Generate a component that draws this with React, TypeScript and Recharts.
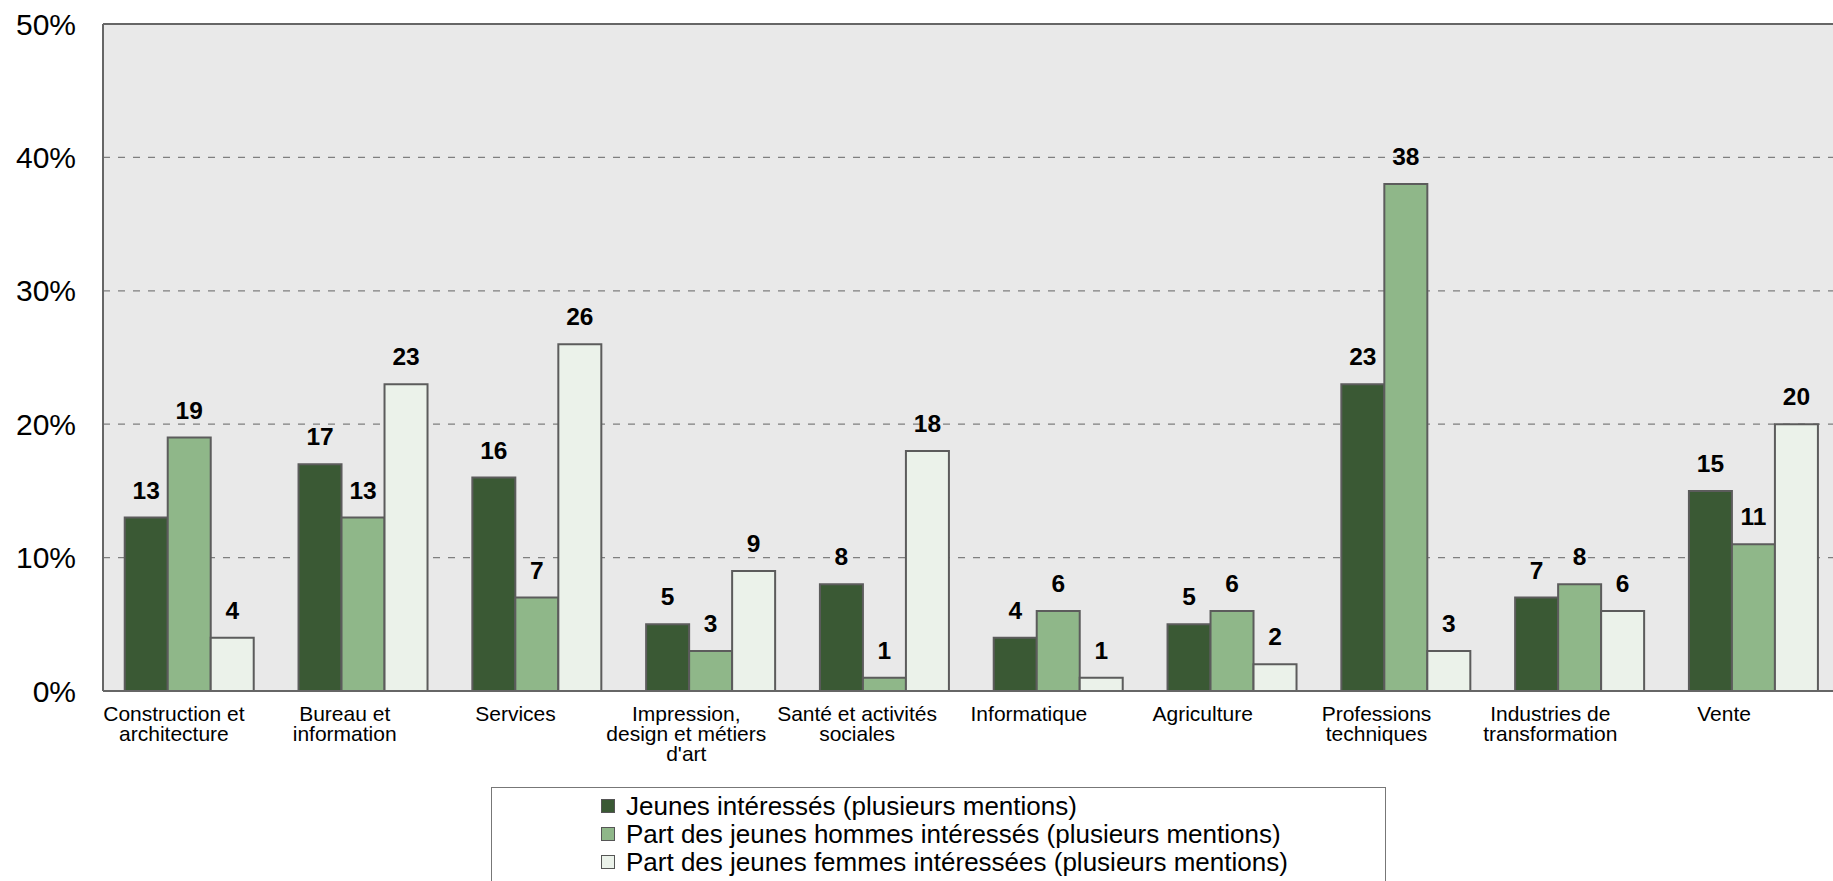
import React from "react";
import {
  BarChart,
  Bar,
  XAxis,
  YAxis,
  CartesianGrid,
  LabelList,
  Legend,
  ReferenceLine,
} from "recharts";

const categories = [
  "Construction et\narchitecture",
  "Bureau et\ninformation",
  "Services",
  "Impression,\ndesign et métiers\nd'art",
  "Santé et activités\nsociales",
  "Informatique",
  "Agriculture",
  "Professions\ntechniques",
  "Industries de\ntransformation",
  "Vente",
];

const jeunes = [13, 17, 16, 5, 8, 4, 5, 23, 7, 15];
const hommes = [19, 13, 7, 3, 1, 6, 6, 38, 8, 11];
const femmes = [4, 23, 26, 9, 18, 1, 2, 3, 6, 20];

const yTicks = [0, 10, 20, 30, 40, 50];

const seriesNames = [
  "Jeunes intéressés (plusieurs mentions)",
  "Part des jeunes hommes intéressés (plusieurs mentions)",
  "Part des jeunes femmes intéressées (plusieurs mentions)",
];

const COLORS = ["#3a5934", "#8fb789", "#ebf2ea"];
const STROKE = "#5c5c5c";
const FONT = "'Liberation Sans', Arial, sans-serif";

const data = categories.map((c, i) => ({
  name: c,
  jeunes: jeunes[i],
  hommes: hommes[i],
  femmes: femmes[i],
}));

const XTick = (props: any) => {
  const { x, y, payload, index } = props;
  const lines = String(payload.value).split("\n");
  const dx = -Math.min(30, 16 + 3 * index);
  return (
    <text
      x={x + dx}
      y={y}
      textAnchor="middle"
      fontSize={21}
      fontFamily={FONT}
      fill="#000"
    >
      {lines.map((l, i) => (
        <tspan key={i} x={x + dx} dy={i === 0 ? 30 : 20}>
          {l}
        </tspan>
      ))}
    </text>
  );
};

const LegendContent = () => (
  <div
    style={{
      boxSizing: "border-box",
      width: 895,
      height: 110,
      border: "1.5px solid #777",
      background: "#fff",
      paddingTop: 4,
      paddingLeft: 109,
      fontFamily: FONT,
      fontSize: 26,
      color: "#000",
    }}
  >
    {seriesNames.map((n, i) => (
      <div
        key={n}
        style={{ display: "flex", alignItems: "center", height: 28, lineHeight: "28px" }}
      >
        <span
          style={{
            display: "inline-block",
            width: 12,
            height: 12,
            background: COLORS[i],
            border: "1px solid #555",
            marginRight: 11,
          }}
        />
        <span style={{ whiteSpace: "nowrap" }}>{n}</span>
      </div>
    ))}
  </div>
);

export default function App() {
  return (
    <div
      style={{
        position: "fixed",
        left: 0,
        top: 0,
        width: 1833,
        height: 881,
        overflow: "hidden",
        background: "#fff",
      }}
    >
      <BarChart
        width={1841}
        height={900}
        data={data}
        margin={{ top: 24, right: 0, bottom: 0, left: 0 }}
        barCategoryGap="12.5%"
        barGap={0}
      >
        <CartesianGrid
          vertical={false}
          stroke="#7f7f7f"
          strokeWidth={1.2}
          strokeDasharray="7 8"
          fill="#e9e9e9"
          fillOpacity={1}
        />
        <XAxis
          dataKey="name"
          height={209}
          interval={0}
          tickLine={false}
          tickSize={0}
          tickMargin={0}
          axisLine={{ stroke: "#666", strokeWidth: 2 }}
          tick={<XTick />}
        />
        <YAxis
          width={103}
          domain={[0, 50]}
          ticks={yTicks}
          tickFormatter={(v: number) => `${v}%`}
          tickLine={false}
          tickSize={0}
          tickMargin={27}
          axisLine={{ stroke: "#666", strokeWidth: 2 }}
          tick={{ fontSize: 30, fontFamily: FONT, fill: "#000" }}
        />
        <ReferenceLine y={50} stroke="#666" strokeWidth={2} />
        <Legend
          layout="horizontal"
          verticalAlign="middle"
          align="center"
          content={<LegendContent />}
          wrapperStyle={{ left: 491, top: 787, width: 895, height: 110 }}
        />
        {["jeunes", "hommes", "femmes"].map((k, i) => (
          <Bar
            key={k}
            dataKey={k}
            name={seriesNames[i]}
            fill={COLORS[i]}
            stroke={STROKE}
            strokeWidth={2}
            isAnimationActive={false}
          >
            <LabelList
              dataKey={k}
              position="top"
              offset={19}
              style={{ fontSize: 24.5, fontWeight: "bold", fontFamily: FONT, fill: "#000" }}
            />
          </Bar>
        ))}
      </BarChart>
    </div>
  );
}
